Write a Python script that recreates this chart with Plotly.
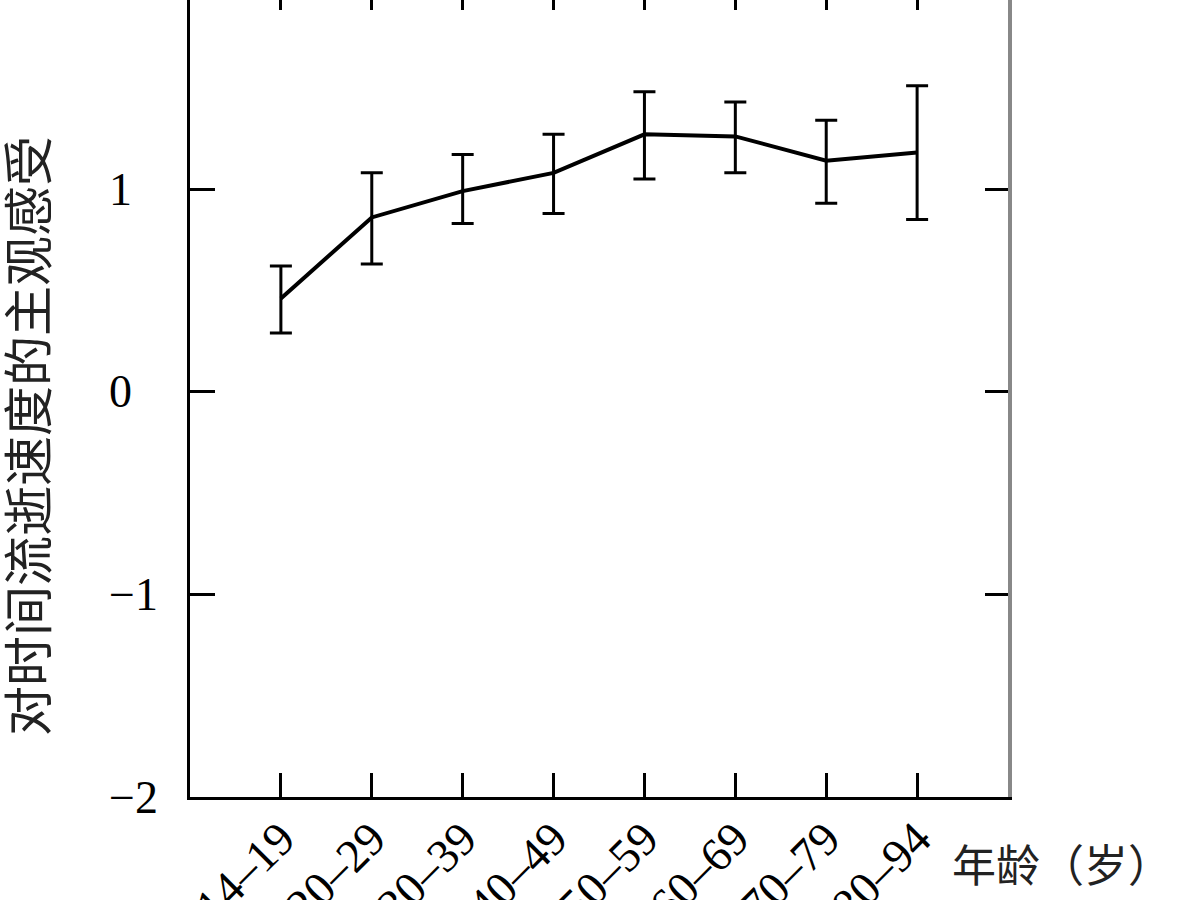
import plotly.graph_objects as go

# ---- data ----
age_groups = ["14–19", "20–29", "30–39", "40–49", "50–59", "60–69", "70–79", "80–94"]
mean_speed = [0.46, 0.86, 0.99, 1.08, 1.27, 1.26, 1.14, 1.18]
err_plus = [0.16, 0.22, 0.18, 0.19, 0.21, 0.17, 0.20, 0.33]
err_minus = [0.17, 0.23, 0.16, 0.20, 0.22, 0.18, 0.21, 0.33]
y_tick_vals = [-2, -1, 0, 1, 2]
y_tick_text = ["−2", "−1", "0", "1", "2"]
y_title = "对时间流逝速度的主观感受"
x_title = "年龄（岁）"

x_idx = list(range(len(age_groups)))

SERIF = "Liberation Serif, Times New Roman, serif"
CJK = "Noto Sans CJK SC"

fig = go.Figure()
fig.add_trace(go.Scatter(
    x=x_idx, y=mean_speed, mode="lines",
    line=dict(color="black", width=4),
    error_y=dict(type="data", symmetric=False, array=err_plus, arrayminus=err_minus,
                 color="black", thickness=3, width=11),
    showlegend=False, hoverinfo="skip",
))
# helper trace so the top (tick-only) axis is rendered
fig.add_trace(go.Scatter(x=[None], y=[None], xaxis="x2", yaxis="y2", showlegend=False))

YR = [-2, 1.933]
XR = [-1, 8]

fig.update_layout(
    width=1200, height=900,
    margin=dict(l=190, r=192, t=0, b=103, autoexpand=False),
    paper_bgcolor="white", plot_bgcolor="white",
    xaxis=dict(range=XR, tickvals=x_idx, ticktext=age_groups, tickangle=-45,
               automargin=False, ticklabelstandoff=-8,
               showline=True, linecolor="black", linewidth=3, mirror=False,
               ticks="inside", ticklen=24, tickwidth=2.5, tickcolor="black",
               showgrid=False, zeroline=False,
               tickfont=dict(family=SERIF, size=47, color="black")),
    xaxis2=dict(range=XR, overlaying="x", side="top", tickvals=x_idx,
                showticklabels=False, showline=False, automargin=False,
                ticks="inside", ticklen=10, tickwidth=2.5, tickcolor="black",
                showgrid=False, zeroline=False),
    yaxis=dict(range=YR, tickvals=y_tick_vals, showticklabels=False, automargin=False,
               showline=True, linecolor="black", linewidth=3, mirror=False,
               ticks="inside", ticklen=25, tickwidth=2.5, tickcolor="black",
               showgrid=False, zeroline=False),
    yaxis2=dict(range=YR, overlaying="y", side="right", tickvals=y_tick_vals,
                showticklabels=False, showline=True, linecolor="#888888", linewidth=4,
                automargin=False,
                ticks="inside", ticklen=23, tickwidth=2.5, tickcolor="black",
                showgrid=False, zeroline=False),
)

annotations = []
for v, t in zip(y_tick_vals, y_tick_text):
    annotations.append(dict(x=(107 - 190) / 818, xref="paper", y=v, yref="y",
                            text=t, showarrow=False, xanchor="left", yanchor="middle",
                            font=dict(family=SERIF, size=46, color="black")))
annotations.append(dict(x=(25 - 190) / 818, xref="paper", y=(900 - 103 - 436) / 797, yref="paper",
                        text=y_title, textangle=-90, showarrow=False,
                        xanchor="center", yanchor="middle",
                        font=dict(family=CJK, size=50, color="#222222")))
annotations.append(dict(x=(1062 - 190) / 818, xref="paper", y=-(863 - 797) / 797, yref="paper",
                        text=x_title, showarrow=False, xanchor="center", yanchor="middle",
                        font=dict(family=CJK, size=44, color="#222222")))
fig.update_layout(annotations=annotations)

fig.write_html("out.html")
